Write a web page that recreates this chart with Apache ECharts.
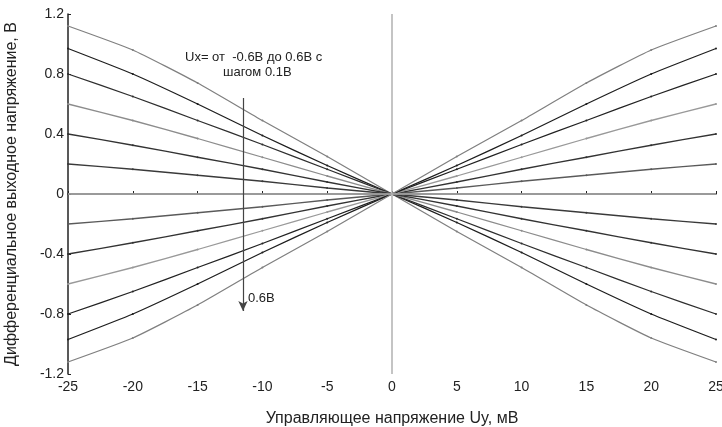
<!DOCTYPE html>
<html><head><meta charset="utf-8">
<script src="https://cdn.jsdelivr.net/npm/echarts@6/dist/echarts.min.js"></script>
<style>html,body{margin:0;padding:0;background:#fff}#c{width:722px;height:427px}</style>
</head><body><div id="c"></div>
<script>
const xValues = [-25, -20, -15, -10, -5, 0, 5, 10, 15, 20, 25];
const s1 = [1.12, 0.96, 0.74, 0.49, 0.25, 0, -0.25, -0.49, -0.74, -0.96, -1.12];
const s2 = [0.97, 0.80, 0.60, 0.39, 0.19, 0, -0.19, -0.39, -0.60, -0.80, -0.97];
const s3 = [0.80, 0.65, 0.49, 0.33, 0.165, 0, -0.165, -0.33, -0.49, -0.65, -0.80];
const s4 = [0.60, 0.49, 0.37, 0.245, 0.12, 0, -0.12, -0.245, -0.37, -0.49, -0.60];
const s5 = [0.40, 0.325, 0.245, 0.165, 0.08, 0, -0.08, -0.165, -0.245, -0.325, -0.40];
const s6 = [0.20, 0.165, 0.125, 0.085, 0.04, 0, -0.04, -0.085, -0.125, -0.165, -0.20];
const s7 = [-0.20, -0.165, -0.125, -0.085, -0.04, 0, 0.04, 0.085, 0.125, 0.165, 0.20];
const s8 = [-0.40, -0.325, -0.245, -0.165, -0.08, 0, 0.08, 0.165, 0.245, 0.325, 0.40];
const s9 = [-0.60, -0.49, -0.37, -0.245, -0.12, 0, 0.12, 0.245, 0.37, 0.49, 0.60];
const s10 = [-0.80, -0.65, -0.49, -0.33, -0.165, 0, 0.165, 0.33, 0.49, 0.65, 0.80];
const s11 = [-0.97, -0.80, -0.60, -0.39, -0.19, 0, 0.19, 0.39, 0.60, 0.80, 0.97];
const s12 = [-1.12, -0.96, -0.74, -0.49, -0.25, 0, 0.25, 0.49, 0.74, 0.96, 1.12];
const allSeries = [s1, s2, s3, s4, s5, s6, s7, s8, s9, s10, s11, s12];
const lineColors = ['#808080', '#1e1e1e', '#2e2e2e', '#8c8c8c', '#333333', '#3a3a3a',
                    '#5a5a5a', '#333333', '#999999', '#222222', '#1e1e1e', '#808080'];
const yTicks = ['-1.2', '-0.8', '-0.4', '0', '0.4', '0.8', '1.2'];
const arrowX = -11.5, arrowTop = 0.64, arrowBottom = -0.78;

const font = 'Liberation Sans, Arial, sans-serif';
const chart = echarts.init(document.getElementById('c'));
const series = allSeries.map((arr, i) => ({
  type: 'line',
  data: arr.map((v, j) => [xValues[j], v]),
  smooth: 0.15,
  symbol: 'circle',
  symbolSize: 2,
  lineStyle: { color: lineColors[i], width: 1.3 },
  itemStyle: { color: lineColors[i] },
  z: 3,
  silent: true
}));
series.push({
  type: 'line', data: [], silent: true, z: 1,
  markLine: {
    silent: true, symbol: ['none', 'none'], label: { show: false },
    lineStyle: { color: '#b0b0b0', width: 1.5, type: 'solid' },
    data: [{ xAxis: 0 }, { yAxis: 0 }]
  }
});
series.push({
  type: 'line', data: [], silent: true, z: 4,
  markLine: {
    silent: true, symbol: ['none', 'arrow'], symbolSize: [7, 10], label: { show: false },
    lineStyle: { color: '#444', width: 1.2, type: 'solid' },
    data: [[{ coord: [arrowX, arrowTop] }, { coord: [arrowX, arrowBottom] }]]
  }
});

chart.setOption({
  animation: false,
  backgroundColor: '#fff',
  grid: { left: 68, right: 6, top: 14, bottom: 53, containLabel: false, outerBoundsMode: 'none' },
  xAxis: {
    type: 'value', min: -25, max: 25, interval: 5,
    axisLine: { lineStyle: { color: '#222', width: 1.5 } },
    axisTick: { inside: true, length: 3, lineStyle: { color: '#222' } },
    axisLabel: { color: '#222', fontFamily: font, fontSize: 14, margin: 6 },
    splitLine: { show: false },
    name: 'Управляющее напряжение Uy, мВ', nameLocation: 'middle', nameGap: 37,
    nameTextStyle: { color: '#222', fontFamily: font, fontSize: 16 }
  },
  yAxis: {
    type: 'value', min: -1.2, max: 1.2, interval: 0.4,
    axisLine: { show: true, onZero: false, lineStyle: { color: '#222', width: 1.5 } },
    axisTick: { show: true, inside: true, length: 3, lineStyle: { color: '#222' } },
    axisLabel: { color: '#222', fontFamily: font, fontSize: 14, margin: 4,
      formatter: v => { const s = yTicks.find(t => Math.abs(parseFloat(t) - v) < 1e-6); return s !== undefined ? s : ''; } },
    splitLine: { show: false },
    name: 'Дифференциальное выходное напряжение, В', nameLocation: 'middle', nameGap: 48,
    nameTextStyle: { color: '#222', fontFamily: font, fontSize: 16 }
  },
  graphic: [
    { type: 'text', left: 185, top: 51, style: { text: 'Ux= от  -0.6В до 0.6В с', fill: '#222', font: '13px ' + font } },
    { type: 'text', left: 223, top: 66, style: { text: 'шагом 0.1В', fill: '#222', font: '13px ' + font } },
    { type: 'text', left: 248, top: 292, style: { text: '0.6В', fill: '#222', font: '13px ' + font } }
  ],
  series: series
});
</script></body></html>
